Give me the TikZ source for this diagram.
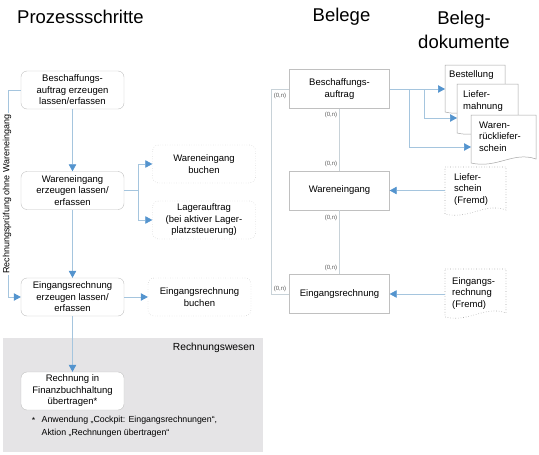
\documentclass[tikz,border=0pt]{standalone}
\usepackage{fontspec}
\setmainfont{Liberation Sans}
\usetikzlibrary{arrows.meta}
\definecolor{bordergray}{RGB}{192,192,192}
\definecolor{dotgray}{RGB}{165,165,165}
\definecolor{linecol}{RGB}{165,197,222}
\definecolor{tipcol}{RGB}{84,148,206}
\definecolor{belegline}{RGB}{200,210,216}
\definecolor{rwgray}{RGB}{229,228,230}
\definecolor{cardcol}{RGB}{90,90,90}
\newcommand\belegdoc[5]{%
  \filldraw[fill=white,#5] (#1,#2) -- (#3,#2) -- (#3,{#4-4})
    .. controls ({#3-0.35*(#3-#1)},{#4-12}) and ({#1+0.4*(#3-#1)},{#4+6}) .. (#1,#4) -- cycle;}
\begin{document}
\begin{tikzpicture}[x=1pt,y=-1pt,
  txt/.style={font=\fontsize{9.5}{11.5}\selectfont, align=center},
  procbox/.style={txt, draw=bordergray, rounded corners=6pt, fill=white,
    minimum width=103pt, minimum height=38pt, inner sep=1pt},
  dotbox/.style={procbox, draw=dotgray, dotted},
  belegbox/.style={txt, draw=bordergray, fill=white, minimum width=100pt,
    minimum height=39pt, inner sep=1pt},
  doctxt/.style={font=\fontsize{9.5}{11.5}\selectfont, align=left, inner sep=0pt, anchor=west},
  conn/.style={draw=linecol, line width=0.7pt},
  arr/.style={conn, -{Triangle[length=7pt,width=7.5pt,color=tipcol]}},
  bline/.style={draw=belegline, line width=0.7pt},
  card/.style={font=\fontsize{6}{7}\selectfont, text=cardcol, inner sep=0pt},
  title/.style={font=\fontsize{18.5}{24}\selectfont, align=center, inner sep=0pt},
]
\useasboundingbox (0,0) rectangle (539,455);

% titles
\node[title, anchor=west] (t1) at (17,17) {Prozessschritte};
\node[title] (t2) at (341.5,17) {Belege};
\node[title] (t3) at (464,29.5) {Beleg-\\dokumente};

% accounting region
\fill[rwgray] (3,338) rectangle (263,452);
\node[font=\fontsize{10.3}{12}\selectfont, anchor=east, inner sep=0pt] (rw) at (255,348) {Rechnungswesen};

% process boxes
\node[procbox] (b1) at (72.5,90) {Beschaffungs-\\auftrag erzeugen\\lassen/erfassen};
\node[procbox] (b2) at (72.5,190.5) {Wareneingang\\erzeugen lassen/\\erfassen};
\node[procbox] (b3) at (72.5,297) {Eingangsrechnung\\erzeugen lassen/\\erfassen};
\node[procbox] (b4) at (72.5,391) {Rechnung in\\Finanzbuchhaltung\\übertragen*};
\node[dotbox] (d1) at (204,164) {Wareneingang\\buchen};
\node[dotbox] (d2) at (204,220) {Lagerauftrag\\(bei aktiver Lager-\\platzsteuerung)};
\node[dotbox] (d3) at (199.5,297) {Eingangsrechnung\\buchen};

% footnote
\node[font=\fontsize{8.8}{13}\selectfont, inner sep=0pt] (star) at (33.5,420) {*};
\node[font=\fontsize{8.8}{13}\selectfont, align=left, inner sep=0pt, anchor=west] (fn) at (41.5,426.5)
  {Anwendung „Cockpit: Eingangsrechnungen“,\\Aktion „Rechnungen übertragen“};

% process connectors
\draw[arr] (b1) -- (b2);
\draw[arr] (b2) -- (b3);
\draw[arr] (b3) -- (b4);
\coordinate (br) at (138,190.5);
\draw[conn] (b2.east) -- (br);
\draw[arr] (br) |- (d1.west);
\draw[arr] (br) |- (d2.west);
\draw[arr] (b3.east) -- (d3.west);
\coordinate (lt) at (8,90);
\coordinate (lb) at (8,297);
\draw[conn] (b1.west) -- (lt) -- (lb);
\draw[arr] (lb) -- (b3.west);
\node[font=\fontsize{9}{11}\selectfont, rotate=90, fill=white, inner sep=1.5pt] (lbl) at (7,194) {Rechnungsprüfung ohne Wareneingang};

% Belege
\node[belegbox] (e1) at (339.5,89) {Beschaffungs-\\auftrag};
\node[belegbox] (e2) at (339.5,190.5) {Wareneingang};
\node[belegbox] (e3) at (339.5,294) {Eingangsrechnung};
\draw[bline] (e1) -- (e2);
\draw[bline] (e2) -- (e3);
\coordinate (rl1) at (271,89);
\coordinate (rl2) at (271,294);
\draw[bline] (e1.west) -- (rl1) -- (rl2) -- (e3.west);
\node[card] (c1) at (280,95.5) {(0,n)};
\node[card] (c2) at (280,289) {(0,n)};
\node[card] (c3) at (331,115) {(0,n)};
\node[card] (c4) at (331,164) {(0,n)};
\node[card] (c5) at (331,218) {(0,n)};
\node[card] (c6) at (331,268) {(0,n)};

% Belegdokumente
\belegdoc{445}{65}{505}{112}{draw=dotgray, line width=0.5pt}
\node[doctxt] (bst) at (449,75) {Bestellung};
\belegdoc{457}{84}{518}{133}{draw=dotgray, line width=0.5pt}
\node[doctxt] (lfm) at (463,101) {Liefer-\\mahnung};
\belegdoc{471}{115}{536}{163}{draw=dotgray, line width=0.5pt}
\node[doctxt] (wrs) at (479,136.5) {Waren-\\rückliefer-\\schein};
\belegdoc{445}{167}{506}{214}{draw=dotgray, dotted, line width=0.6pt}
\node[doctxt] (lsf) at (454,189.5) {Liefer-\\schein\\(Fremd)};
\belegdoc{445}{269}{506}{317}{draw=dotgray, dotted, line width=0.6pt}
\node[doctxt] (erf) at (452,293.5) {Eingangs-\\rechnung\\(Fremd)};

\coordinate (bstw) at (445,89);
\coordinate (lfmw) at (457,118);
\coordinate (wrsw) at (471,147);
\coordinate (j1) at (409,89);
\coordinate (j2) at (424,89);
\draw[arr] (e1.east) -- (bstw);
\draw[arr] (j2) |- (lfmw);
\draw[arr] (j1) |- (wrsw);
\coordinate (lsfw) at (445,190.5);
\coordinate (erfw) at (445,294);
\draw[arr] (lsfw) -- (e2.east);
\draw[arr] (erfw) -- (e3.east);
\end{tikzpicture}
\end{document}
